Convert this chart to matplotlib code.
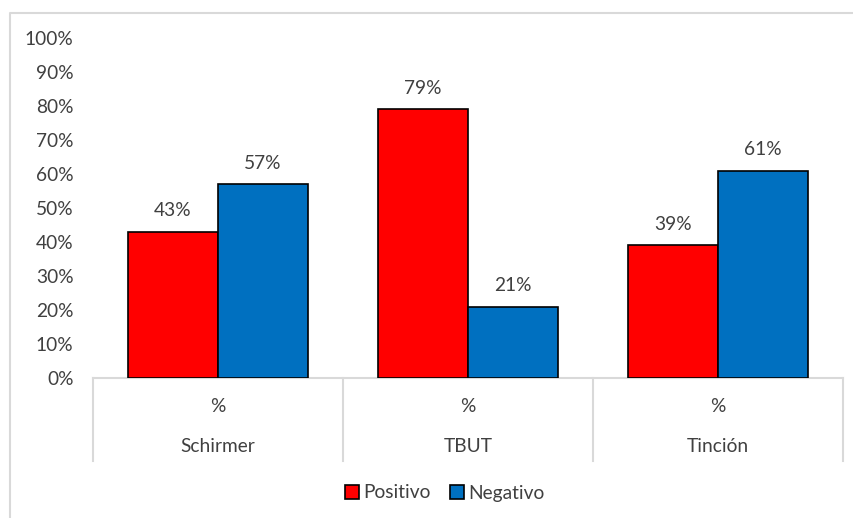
import matplotlib
matplotlib.use("Agg")
import matplotlib.pyplot as plt
from matplotlib.lines import Line2D
from matplotlib.patches import Patch
import matplotlib.transforms as mtransforms

plt.rcParams['font.family'] = ['Lato', 'DejaVu Sans']

groups = ["Schirmer", "TBUT", "Tinción"]
sublabels = ["%", "%", "%"]
series_names = ["Positivo", "Negativo"]
positivo = [43, 79, 39]
negativo = [57, 21, 61]
y_ticks = [0, 10, 20, 30, 40, 50, 60, 70, 80, 90, 100]

colors = ["#FF0000", "#0070C0"]
text_color = "#404040"
grid_gray = "#D9D9D9"
fs = 13.8

W, H = 854, 518
fig = plt.figure(figsize=(W / 100, H / 100), dpi=100)
ax = fig.add_axes([93 / W, (H - 378) / H, 750 / W, 340 / H])

x = list(range(len(groups)))
bw = 0.36
for i, (vals, name, col) in enumerate(zip([positivo, negativo], series_names, colors)):
    offs = (i - 0.5) * bw
    bars = ax.bar([xi + offs for xi in x], vals, width=bw, color=col,
                  edgecolor="black", linewidth=1.2, label=name, zorder=3)
    for b, v in zip(bars, vals):
        ax.annotate(f"{v}%", (b.get_x() + b.get_width() / 2, v),
                    xytext=(0, 15), textcoords="offset points",
                    ha="center", va="center", fontsize=fs, color=text_color)

ax.set_xlim(-0.5, len(groups) - 0.5)
ax.set_ylim(0, 100)
ax.set_yticks(y_ticks)
ax.set_yticklabels([f"{t}%" for t in y_ticks], fontsize=fs, color=text_color)
ax.tick_params(axis="y", length=0, pad=14)
ax.set_xticks([])
for s in ["top", "right", "left"]:
    ax.spines[s].set_visible(False)
ax.spines["bottom"].set_color(grid_gray)
ax.spines["bottom"].set_linewidth(1.5)

# multi-level category axis
trans = mtransforms.blended_transform_factory(ax.transData, fig.transFigure)
y_axis = (H - 378) / H
y_sep_bottom = (H - 461) / H
for b in [-0.5 + k for k in range(len(groups) + 1)]:
    fig.add_artist(Line2D([b, b], [y_axis, y_sep_bottom], transform=trans,
                          color=grid_gray, linewidth=1.5))
for xi, g, s in zip(x, groups, sublabels):
    fig.text(xi, (H - 407) / H, s, transform=trans, ha="center", va="center",
             fontsize=fs, color=text_color)
    fig.text(xi, (H - 447) / H, g, transform=trans, ha="center", va="center",
             fontsize=fs, color=text_color)

handles = [Patch(facecolor=c, edgecolor="black", linewidth=1.2, label=n)
           for c, n in zip(colors, series_names)]
leg = fig.legend(handles=handles, loc="center", bbox_to_anchor=(445 / W, (H - 493) / H),
                 ncol=2, frameon=False, fontsize=fs, handlelength=0.7,
                 handleheight=0.7, handletextpad=0.25, columnspacing=1.0)
for t in leg.get_texts():
    t.set_color(text_color)

# chart-area border
fig.add_artist(Line2D([10 / W, 10 / W, 1.0], [0.0, (H - 13) / H, (H - 13) / H],
                      transform=fig.transFigure, color=grid_gray, linewidth=1.5))

fig.savefig("out.png", dpi=100)
